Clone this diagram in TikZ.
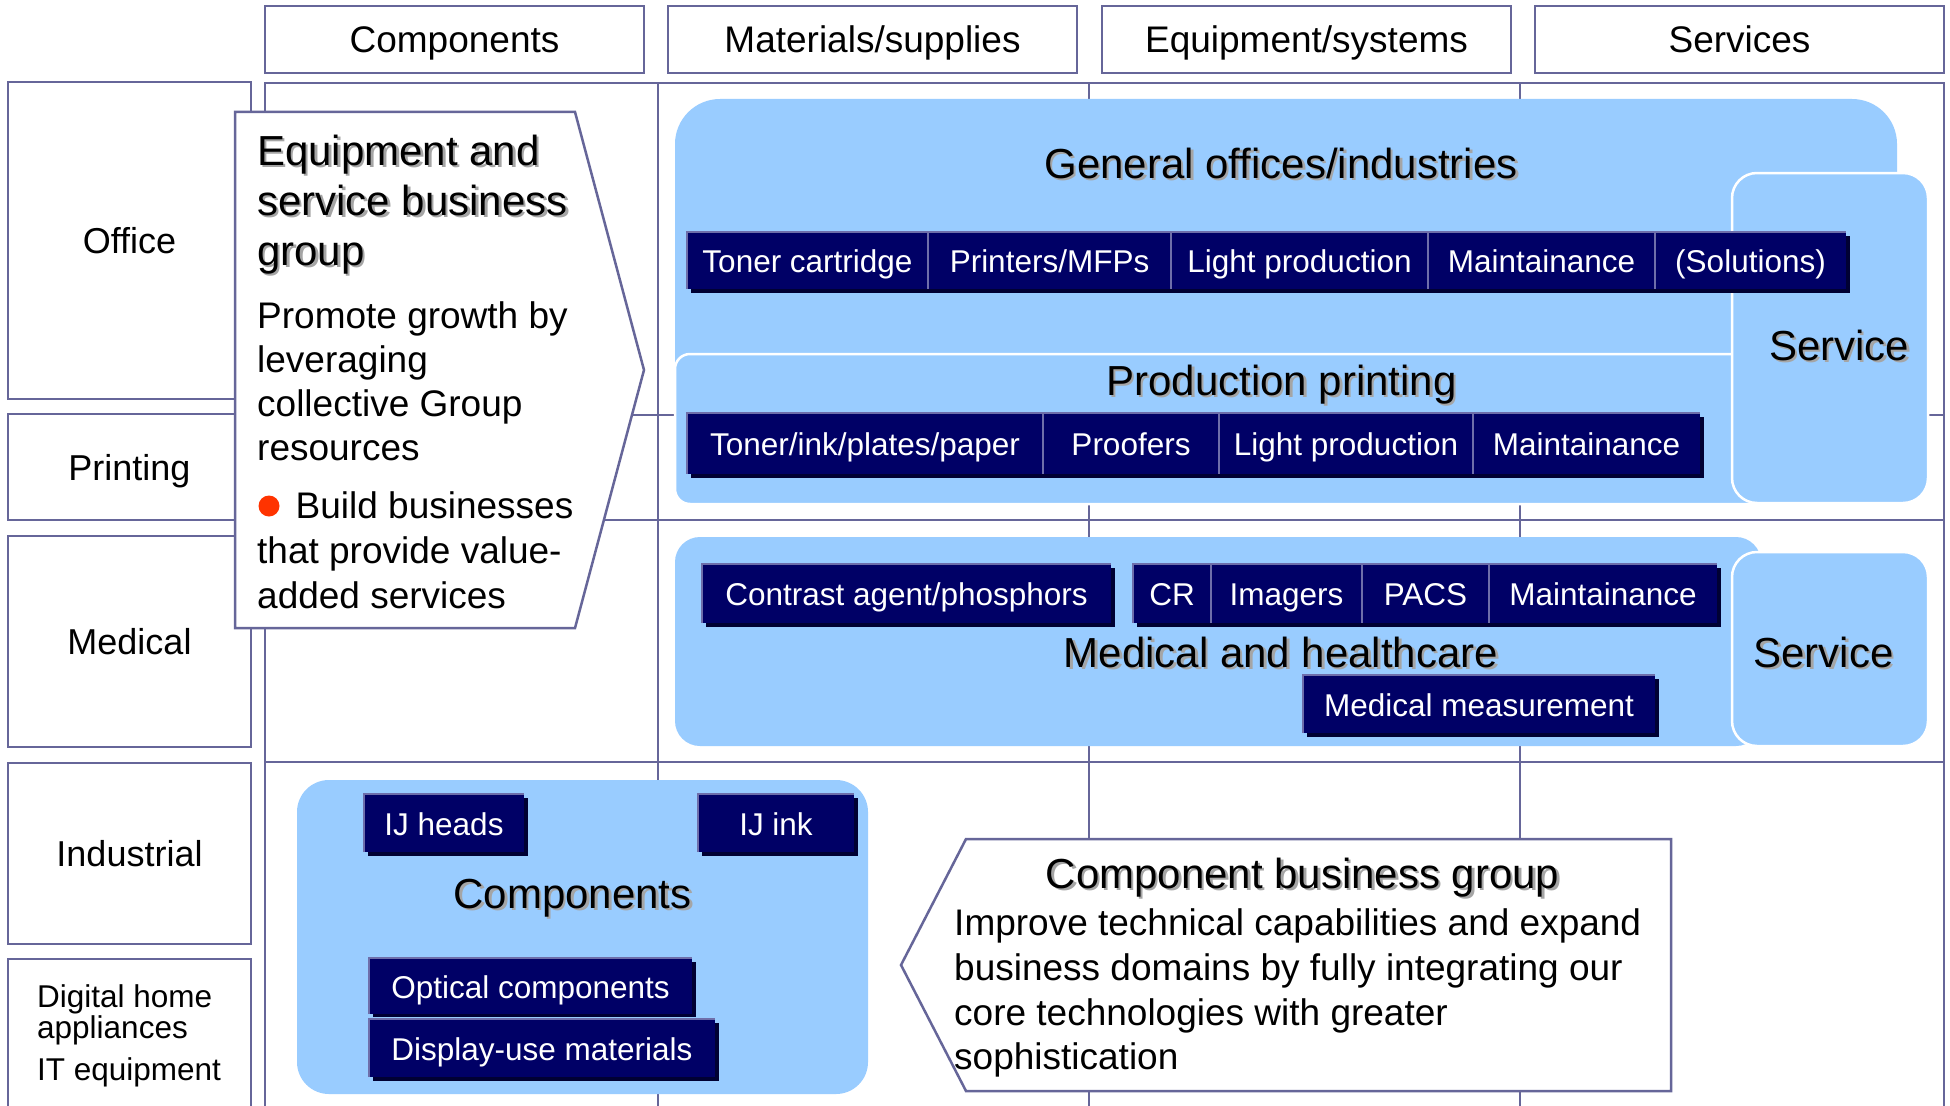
\documentclass[tikz,border=0pt]{standalone}
\usepackage{fontspec}
\setmainfont{Liberation Sans}
\usetikzlibrary{calc}

\definecolor{gridc}{RGB}{102,102,153}
\definecolor{paleblue}{RGB}{153,204,255}
\definecolor{navy}{RGB}{0,0,102}
\definecolor{navyshade}{RGB}{0,0,51}
\definecolor{celledge}{RGB}{110,110,170}
\definecolor{bulletred}{RGB}{255,51,0}
\definecolor{shadowgrey}{RGB}{165,165,165}

\tikzset{
  gridline/.style={draw=gridc, line width=2.5pt},
  framebox/.style={draw=gridc, line width=2.5pt, fill=white, outer sep=0pt, inner sep=0pt,
                   anchor=north west, text depth=0pt},
  panel/.style={fill=paleblue, draw=none},
  subpanel/.style={fill=paleblue, draw=white, line width=2.5pt},
  cell/.style={fill=navy, text=white, inner sep=0pt, outer sep=0pt, anchor=north west,
               font=\fontsize{31.5}{36}\selectfont, text height=24.5pt, text depth=0pt},
  cellline/.style={draw=celledge, line width=2pt},
  cellshade/.style={fill=navyshade},
  headtext/.style={font=\fontsize{37}{44}\selectfont, text height=26.5pt},
  rowtext/.style={font=\fontsize{36}{44}\selectfont, text height=26pt},
  titletext/.style={font=\fontsize{42}{50}\selectfont, inner sep=0pt},
  titleshadow/.style={titletext, text=shadowgrey},
  bodytext/.style={font=\fontsize{37}{45}\selectfont, inner sep=0pt, anchor=base west},
  smalltext/.style={font=\fontsize{31.5}{36}\selectfont, inner sep=0pt, anchor=base west},
}

% title line with a soft grey drop shadow: name, anchor, position, text
\newcommand\shadowtitle[4]{%
  \node[titleshadow, anchor=#2] (#1-sh) at ($(#3)+(2.5,2.5)$) {#4};
  \node[titletext, anchor=#2] (#1) at (#3) {#4};}

\begin{document}
\begin{tikzpicture}[x=1pt, y=-1pt]
\useasboundingbox (0,0) rectangle (1950,1105);
\fill[white] (0,0) rectangle (1950,1105);
\clip (0,0) rectangle (1950,1105);

% ---- matrix grid ----
\draw[gridline] (265,1110) -- (265,83) -- (1944,83) -- (1944,1110);
\draw[gridline] (265,415) -- (1944,415);
\draw[gridline] (265,520) -- (1944,520);
\draw[gridline] (265,762) -- (1944,762);
\draw[gridline] (658,83) -- (658,1110);
\draw[gridline] (1089,83) -- (1089,1110);
\draw[gridline] (1520,83) -- (1520,1110);

% ---- column headers ----
\node[framebox, headtext, minimum width=379pt, minimum height=67pt] (hcomp) at (265,6) {Components};
\node[framebox, headtext, minimum width=409pt, minimum height=67pt] (hmat) at (668,6) {Materials/supplies};
\node[framebox, headtext, minimum width=409pt, minimum height=67pt] (hequip) at (1102,6) {Equipment/systems};
\node[framebox, headtext, minimum width=409pt, minimum height=67pt] (hserv) at (1535,6) {Services};

% ---- row headers ----
\node[framebox, rowtext, minimum width=243pt, minimum height=317pt] (roffice) at (8,82) {Office};
\node[framebox, rowtext, minimum width=243pt, minimum height=106pt] (rprint) at (8,414) {Printing};
\node[framebox, rowtext, minimum width=243pt, minimum height=211pt] (rmed) at (8,536) {Medical};
\node[framebox, rowtext, minimum width=243pt, minimum height=181pt] (rind) at (8,763) {Industrial};
\node[framebox, minimum width=243pt, minimum height=151pt] (rdig) at (8,959) {};
\node[smalltext] (dig1) at (37,1007) {Digital home};
\node[smalltext] (dig2) at (37,1038) {appliances};
\node[smalltext] (dig3) at (37,1080) {IT equipment};

% ---- business areas ----
\fill[panel, rounded corners=45pt] (675,99) rectangle (1897,470);
\draw[subpanel, rounded corners=15pt] (675,354) rectangle (1770,504);
\draw[subpanel, rounded corners=25pt] (1732,173) rectangle (1928,503);
\fill[panel, rounded corners=25pt] (675,537) rectangle (1761,746);
\draw[subpanel, rounded corners=25pt] (1732,552) rectangle (1928,746);
\fill[panel, rounded corners=32pt] (297,780) rectangle (868,1094);

% ---- general offices / industries product bar ----
\fill[cellshade] (691,236) rectangle (1850,293);
\node[cell, minimum width=241pt, minimum height=57pt] (tc) at (687,232) {Toner cartridge};
\node[cell, minimum width=243pt, minimum height=57pt] (pm) at (928,232) {Printers/MFPs};
\node[cell, minimum width=257pt, minimum height=57pt] (lpa) at (1171,232) {Light production};
\node[cell, minimum width=227pt, minimum height=57pt] (mta) at (1428,232) {Maintainance};
\node[cell, minimum width=191pt, minimum height=57pt] (sol) at (1655,232) {(Solutions)};
\draw[cellline] (tc.south west) -- (tc.north west) -- (sol.north east);
\foreach \c in {tc,pm,lpa,mta} \draw[cellline] (\c.north east) -- (\c.south east);

% ---- production printing product bar ----
\fill[cellshade] (691,417) rectangle (1704,478);
\node[cell, minimum width=356pt, minimum height=61pt] (tip) at (687,413) {Toner/ink/plates/paper};
\node[cell, minimum width=176pt, minimum height=61pt] (prf) at (1043,413) {Proofers};
\node[cell, minimum width=254pt, minimum height=61pt] (lpb) at (1219,413) {Light production};
\node[cell, minimum width=227pt, minimum height=61pt] (mtb) at (1473,413) {Maintainance};
\draw[cellline] (tip.south west) -- (tip.north west) -- (mtb.north east);
\foreach \c in {tip,prf,lpb} \draw[cellline] (\c.north east) -- (\c.south east);

% ---- medical product bars ----
\fill[cellshade] (706,568) rectangle (1115,627);
\node[cell, minimum width=409pt, minimum height=59pt] (cap) at (702,564) {Contrast agent/phosphors};
\draw[cellline] (cap.south west) -- (cap.north west) -- (cap.north east);

\fill[cellshade] (1137,568) rectangle (1721,627);
\node[cell, minimum width=78pt, minimum height=59pt] (cr) at (1133,564) {CR};
\node[cell, minimum width=151pt, minimum height=59pt] (img) at (1211,564) {Imagers};
\node[cell, minimum width=127pt, minimum height=59pt] (pacs) at (1362,564) {PACS};
\node[cell, minimum width=228pt, minimum height=59pt] (mtc) at (1489,564) {Maintainance};
\draw[cellline] (cr.south west) -- (cr.north west) -- (mtc.north east);
\foreach \c in {cr,img,pacs} \draw[cellline] (\c.north east) -- (\c.south east);

\fill[cellshade] (1307,679) rectangle (1659,737);
\node[cell, minimum width=352pt, minimum height=58pt] (mm) at (1303,675) {Medical measurement};
\draw[cellline] (mm.south west) -- (mm.north west) -- (mm.north east);

% ---- component product bars ----
\fill[cellshade] (368,798) rectangle (528,856);
\node[cell, minimum width=160pt, minimum height=58pt] (ijh) at (364,794) {IJ heads};
\draw[cellline] (ijh.south west) -- (ijh.north west) -- (ijh.north east);

\fill[cellshade] (702,798) rectangle (858,856);
\node[cell, minimum width=156pt, minimum height=58pt] (iji) at (698,794) {IJ ink};
\draw[cellline] (iji.south west) -- (iji.north west) -- (iji.north east);

\fill[cellshade] (373,962) rectangle (696,1017);
\node[cell, minimum width=323pt, minimum height=56pt] (opt) at (369,958) {Optical components};
\draw[cellline] (opt.south west) -- (opt.north west) -- (opt.north east);

\fill[cellshade] (373,1023) rectangle (719,1081);
\node[cell, minimum width=346pt, minimum height=58pt] (dum) at (369,1019) {Display-use materials};
\draw[cellline] (dum.south west) -- (dum.north west) -- (dum.north east);

% ---- area titles ----
\shadowtitle{gentitle}{base}{1281,178}{General offices/industries}
\shadowtitle{prodtitle}{base}{1281.5,395}{Production printing}
\shadowtitle{srvoffice}{base}{1839,360}{Service}
\shadowtitle{medtitle}{base}{1281,667}{Medical and healthcare}
\shadowtitle{srvmed}{base}{1823.5,667}{Service}
\shadowtitle{comptitle}{base}{572.6,908}{Components}

% ---- equipment and service business group callout ----
\draw[gridline, fill=white] (235,112) -- (575,112) -- (644,370) -- (575,628) -- (235,628) -- cycle;
\shadowtitle{esga}{base west}{257,165}{Equipment and}
\shadowtitle{esgb}{base west}{257,215}{service business}
\shadowtitle{esgc}{base west}{257,265}{group}
\node[bodytext] (esg1) at (257,328) {Promote growth by};
\node[bodytext] (esg2) at (257,372) {leveraging};
\node[bodytext] (esg3) at (257,416) {collective Group};
\node[bodytext] (esg4) at (257,460) {resources};
\node[circle, fill=bulletred, minimum size=21pt, inner sep=0pt] (bullet) at (269,506) {};
\node[bodytext] (esg5) at (295.5,518) {Build businesses};
\node[bodytext] (esg6) at (257,563) {that provide value-};
\node[bodytext] (esg7) at (257,608) {added services};

% ---- component business group callout ----
\draw[gridline, fill=white] (966,839) -- (1671,839) -- (1671,1091) -- (966,1091) -- (901,965) -- cycle;
\shadowtitle{cbgtitle}{base}{1302.6,888}{Component business group}
\node[bodytext] (cbg1) at (954,935) {Improve technical capabilities and expand};
\node[bodytext] (cbg2) at (954,980) {business domains by fully integrating our};
\node[bodytext] (cbg3) at (954,1025) {core technologies with greater};
\node[bodytext] (cbg4) at (954,1069) {sophistication};

\end{tikzpicture}
\end{document}
